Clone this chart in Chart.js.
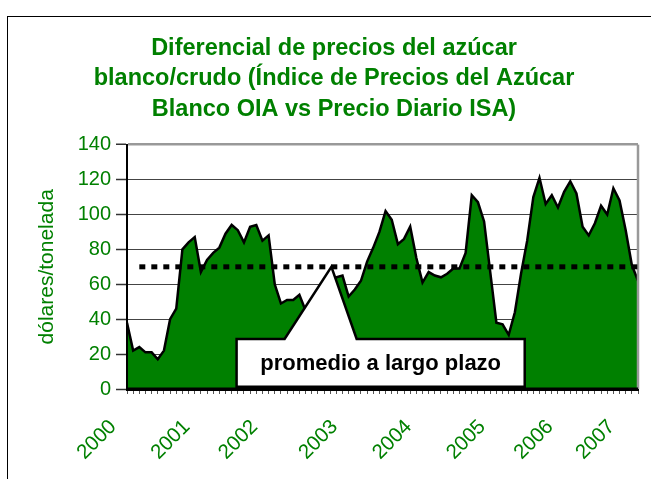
<!DOCTYPE html>
<html>
<head>
<meta charset="utf-8">
<script src="https://cdn.jsdelivr.net/npm/chart.js@4"></script>
<style>
  body { margin: 0; background: #fff; overflow: hidden; }
</style>
</head>
<body>
<canvas id="grafico" width="651" height="479"></canvas>
<script>
// datos (dolares/tonelada, mensual 2000-2006)
const diferencial = [
    38, 22, 24, 21, 21, 17, 22, 40, 46, 80, 84, 87,
    67, 74, 78, 81, 89, 94, 91, 84, 93, 94, 85, 88,
    60, 49, 51, 51, 54, 45, 42, 40, 48, 55, 64, 65,
    53, 57, 62, 73, 81, 90, 102, 97, 83, 86, 93, 75,
    61, 67, 65, 64, 66, 69, 69, 78, 111, 107, 96, 67,
    38, 37, 31, 44, 66, 85, 110, 121, 106, 111, 104, 113,
    119, 112, 93, 88, 95, 105, 100, 115, 108, 91, 71, 62
];
const anios = ['2000', '2001', '2002', '2003', '2004', '2005', '2006', '2007'];
const posAnios = [0, 12, 23, 36, 48, 60, 71, 81];
const promedio = 70;
const yTicks = [0, 20, 40, 60, 80, 100, 120, 140];

const meses = diferencial.map((v, i) => (2000 + Math.floor(i / 12)) + '-' + (i % 12 + 1));

const verde = '#008000';
const fuente = "'Liberation Sans', Arial, sans-serif";

// recuadro "promedio a largo plazo" (en unidades de los ejes)
const nota = { texto: 'promedio a largo plazo', izq: 17.8, der: 64.6, arriba: 28.7, abajo: 1.3, baseIzq: 25.6, baseDer: 37.3, puntaX: 33.2 };

const extras = {
    id: 'extras',
    beforeDraw(chart) {
        const ctx = chart.ctx;
        ctx.save();
        ctx.strokeStyle = '#000';
        ctx.lineWidth = 1;
        ctx.strokeRect(7.5, 16.5, 700, 600);
        ctx.restore();
    },
    afterDatasetsDraw(chart) {
        const { ctx, chartArea: a, scales: { x, y } } = chart;
        ctx.save();

        // borde gris derecho
        ctx.strokeStyle = '#999';
        ctx.lineWidth = 2.5;
        ctx.beginPath();
        ctx.moveTo(a.right, a.top);
        ctx.lineTo(a.right, a.bottom);
        ctx.stroke();

        // promedio a largo plazo (punteado)
        const yp = y.getPixelForValue(promedio);
        ctx.strokeStyle = '#000';
        ctx.lineWidth = 5;
        ctx.setLineDash([6, 6]);
        ctx.beginPath();
        ctx.moveTo(x.getPixelForValue(2), yp);
        ctx.lineTo(a.right, yp);
        ctx.stroke();
        ctx.setLineDash([]);

        // recuadro con flecha
        const L = x.getPixelForValue(nota.izq), R = x.getPixelForValue(nota.der);
        const T = y.getPixelForValue(nota.arriba), B = y.getPixelForValue(nota.abajo);
        ctx.beginPath();
        ctx.moveTo(L, T);
        ctx.lineTo(x.getPixelForValue(nota.baseIzq), T);
        ctx.lineTo(x.getPixelForValue(nota.puntaX), yp);
        ctx.lineTo(x.getPixelForValue(nota.baseDer), T);
        ctx.lineTo(R, T);
        ctx.lineTo(R, B);
        ctx.lineTo(L, B);
        ctx.closePath();
        ctx.fillStyle = '#fff';
        ctx.fill();
        ctx.lineWidth = 2.5;
        ctx.lineJoin = 'miter';
        ctx.stroke();
        ctx.fillStyle = '#000';
        ctx.font = 'bold 22px ' + fuente;
        ctx.textAlign = 'center';
        ctx.textBaseline = 'middle';
        ctx.fillText(nota.texto, (L + R) / 2, (T + B) / 2 + 1);

        // ejes
        ctx.strokeStyle = '#000';
        ctx.lineWidth = 2;
        ctx.beginPath();
        ctx.moveTo(a.left, a.top);
        ctx.lineTo(a.left, a.bottom);
        ctx.stroke();
        ctx.lineWidth = 3;
        ctx.beginPath();
        ctx.moveTo(a.left, a.bottom);
        ctx.lineTo(a.right, a.bottom);
        ctx.stroke();
        ctx.restore();
    }
};

new Chart(document.getElementById('grafico'), {
    type: 'line',
    data: {
        labels: meses,
        datasets: [
            {
                label: 'Diferencial',
                data: diferencial,
                fill: 'origin',
                backgroundColor: verde,
                borderColor: '#000',
                borderWidth: 2.5,
                pointRadius: 0,
                tension: 0
            }
        ]
    },
    options: {
        responsive: false,
        animation: false,
        layout: { padding: { left: 30, right: 13, top: 0, bottom: 0 }, autoPadding: false },
        plugins: {
            legend: { display: false },
            tooltip: { enabled: false },
            title: {
                display: true,
                text: ['Diferencial de precios del azúcar', 'blanco/crudo (Índice de Precios del Azúcar', 'Blanco OIA vs Precio Diario ISA)'],
                color: verde,
                font: { family: fuente, size: 23.5, weight: 'bold', lineHeight: 1.3 },
                padding: { top: 33, bottom: 20 }
            }
        },
        scales: {
            x: {
                offset: false,
                grid: { drawOnChartArea: false, drawTicks: true, tickLength: 5, color: '#555', tickColor: '#555' },
                border: { color: '#000', width: 3 },
                ticks: {
                    autoSkip: false,
                    minRotation: 45,
                    maxRotation: 45,
                    padding: 21,
                    labelOffset: -14,
                    color: verde,
                    font: { family: fuente, size: 20.5 },
                    callback: (v, i) => {
                        const k = posAnios.indexOf(i);
                        return k >= 0 ? anios[k] : '';
                    }
                },
                afterFit: s => { s.height = 90; s.paddingLeft = 0; s.paddingRight = 0; }
            },
            y: {
                min: 0,
                max: 140,
                afterBuildTicks: s => { s.ticks = yTicks.map(v => ({ value: v })); },
                grid: {
                    color: c => c.tick.value === 140 ? '#999' : '#444',
                    lineWidth: c => c.tick.value === 140 ? 2.5 : 1,
                    tickLength: 11,
                    tickColor: '#333',
                    tickWidth: 1.5
                },
                border: { color: '#000', width: 2 },
                ticks: { color: verde, padding: 5, font: { family: fuente, size: 20 } },
                title: {
                    display: true,
                    text: 'dólares/tonelada',
                    color: verde,
                    padding: { top: 5, bottom: 0 },
                    font: { family: fuente, size: 21 }
                },
                afterFit: s => { s.width = 97; s.paddingTop = 0; s.paddingBottom = 0; }
            }
        }
    },
    plugins: [extras]
});
</script>
</body>
</html>
